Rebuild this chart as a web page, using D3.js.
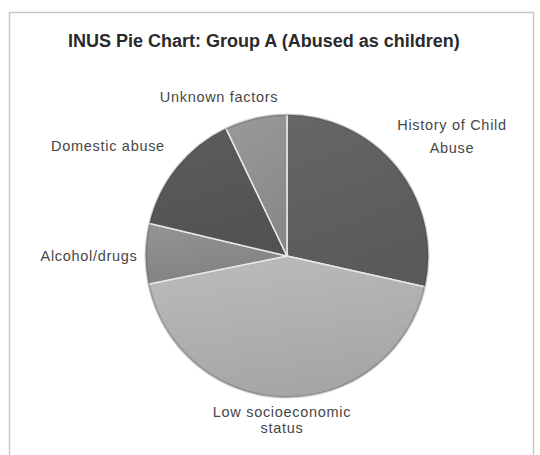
<!DOCTYPE html>
<html>
<head>
<meta charset="utf-8">
<script src="https://cdn.jsdelivr.net/npm/d3@7"></script>
<style>
  body { margin: 0; background: #fff; }
</style>
</head>
<body>
<svg id="chart" width="540" height="455"></svg>
<script>
// values (percent of the pie)
var labels = ["History of Child Abuse", "Low socioeconomic status", "Alcohol/drugs", "Domestic abuse", "Unknown factors"];
var values = [28.5, 43.3, 6.9, 14.2, 7.1];
var colors = ["#5d5d5d", "#acacac", "#878787", "#555555", "#8d8d8d"];
// label lines and where they sit
var labelLines = [["History of Child", "Abuse"], ["Low socioeconomic", "status"], ["Alcohol/drugs"], ["Domestic abuse"], ["Unknown factors"]];
var labelPos = [[452, 130, 23], [282, 417, 16], [89, 261, 0], [108, 151, 0], [219, 102, 0]];

var font = "'Liberation Sans', Arimo, Arial, Helvetica, sans-serif";
var svg = d3.select("#chart");
var cx = 287, cy = 256, r = 142;

// frame
svg.append("rect")
  .attr("x", 9.5).attr("y", 12.5)
  .attr("width", 524).attr("height", 470)
  .attr("fill", "#fff")
  .attr("stroke", "#c9c9c9")
  .attr("stroke-width", 1.5);

svg.append("text")
  .attr("x", 68).attr("y", 47)
  .attr("font-family", font)
  .style("font-size", "18px")
  .style("font-weight", "bold")
  .style("fill", "#2a2a2a")
  .text("INUS Pie Chart: Group A (Abused as children)");

var defs = svg.append("defs");
colors.forEach(function(c, i){
  var g = defs.append("linearGradient")
    .attr("id", "grad" + i)
    .attr("x1", "0").attr("y1", "0").attr("x2", "0.3").attr("y2", "1");
  g.append("stop").attr("offset", "0%").attr("stop-color", d3.color(c).brighter(0.25));
  g.append("stop").attr("offset", "100%").attr("stop-color", d3.color(c).darker(0.1));
});

var pie = d3.pie().sort(null).value(function(d){ return d; });
var arc = d3.arc().innerRadius(0).outerRadius(r);
var arcs = pie(values);

var g = svg.append("g").attr("transform", "translate(" + cx + "," + cy + ")");

g.selectAll("path.slice")
  .data(arcs)
  .enter().append("path")
  .attr("class", "slice")
  .attr("d", arc)
  .attr("fill", function(d, i){ return "url(#grad" + i + ")"; })
  .attr("stroke", "#e8e8e8")
  .attr("stroke-width", 1.5)
  .attr("stroke-linejoin", "round");

// soft dark rim on the outer edge
g.append("circle")
  .attr("r", r - 1)
  .attr("fill", "none")
  .attr("stroke", "rgba(60,60,60,0.25)")
  .attr("stroke-width", 2);

labelLines.forEach(function(lines, i){
  var p = labelPos[i];
  var t = svg.append("text")
    .attr("text-anchor", "middle")
    .attr("font-family", font)
    .style("font-size", "14.5px")
    .style("letter-spacing", "0.7px")
    .style("fill", "#474747");
  lines.forEach(function(s, j){
    t.append("tspan")
      .attr("x", p[0])
      .attr("y", p[1] + j * p[2])
      .text(s);
  });
});
</script>
</body>
</html>
